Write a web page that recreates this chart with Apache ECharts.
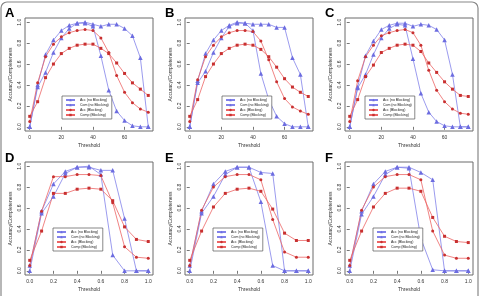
<!DOCTYPE html>
<html>
<head>
<meta charset="utf-8">
<script src="https://cdn.jsdelivr.net/npm/echarts@6/dist/echarts.min.js"></script>
<style>html,body{margin:0;padding:0;background:#fff}#c{width:480px;height:296px}</style>
</head>
<body>
<div id="c"></div>
<script>
// ---- data ----
const thrPct = [0,5,10,15,20,25,30,35,40,45,50,55,60,65,70,75];
const thrFrac = [0.0,0.1,0.2,0.3,0.4,0.5,0.6,0.7,0.8,0.9,1.0];
const xTicksPct = [0,20,40,60];
const xTicksFrac = [0.0,0.2,0.4,0.6,0.8,1.0];
const yTicks = [0.0,0.2,0.4,0.6,0.8,1.0];
const panelLetters = ['A','B','C','D','E','F'];
const seriesNames = ['Acc (no Blocking)','Com (no Blocking)','Acc (Blocking)','Comp (Blocking)'];

// Panel A
const accNoBlockA = [0.0,0.40,0.69,0.83,0.92,0.97,0.99,1.00,0.98,0.96,0.98,0.98,0.94,0.87,0.66,0.0];
const comNoBlockA = [0.0,0.38,0.52,0.71,0.85,0.94,0.99,0.99,0.96,0.68,0.35,0.15,0.06,0.01,0.0,0.0];
const accBlockA   = [0.05,0.42,0.67,0.79,0.86,0.90,0.92,0.93,0.92,0.85,0.71,0.49,0.33,0.23,0.17,0.14];
const compBlockA  = [0.10,0.24,0.47,0.60,0.70,0.75,0.78,0.79,0.79,0.75,0.70,0.61,0.51,0.42,0.36,0.30];
// Panel B
const accNoBlockB = [0.0,0.44,0.70,0.83,0.92,0.97,1.00,0.99,0.98,0.98,0.98,0.95,0.95,0.66,0.50,0.0];
const comNoBlockB = [0.0,0.42,0.53,0.71,0.85,0.96,0.99,0.99,0.92,0.51,0.26,0.10,0.03,0.0,0.0,0.0];
const accBlockB   = [0.05,0.45,0.67,0.78,0.86,0.90,0.92,0.92,0.91,0.82,0.64,0.43,0.27,0.19,0.15,0.12];
const compBlockB  = [0.10,0.26,0.48,0.60,0.70,0.75,0.78,0.79,0.78,0.74,0.67,0.57,0.46,0.38,0.33,0.29];
// Panel C
const accNoBlockC = [0.0,0.38,0.68,0.82,0.93,0.97,0.99,0.99,0.96,0.98,0.97,0.93,0.83,0.50,0.0,0.0];
const comNoBlockC = [0.0,0.37,0.50,0.69,0.85,0.94,0.98,0.97,0.65,0.32,0.14,0.05,0.01,0.0,0.0,0.0];
const accBlockC   = [0.05,0.44,0.67,0.78,0.87,0.90,0.92,0.93,0.90,0.78,0.54,0.35,0.24,0.17,0.13,0.12];
const compBlockC  = [0.10,0.26,0.48,0.59,0.71,0.75,0.78,0.79,0.78,0.72,0.61,0.52,0.43,0.36,0.30,0.29];
// Panel D
const accNoBlockD = [0.05,0.57,0.83,0.95,0.99,0.99,0.96,0.96,0.50,0.0,0.0];
const comNoBlockD = [0.0,0.55,0.71,0.93,0.99,1.00,0.92,0.15,0.0,0.0,0.0];
const accBlockD   = [0.05,0.57,0.90,0.90,0.92,0.92,0.91,0.65,0.23,0.13,0.12];
const compBlockD  = [0.10,0.38,0.74,0.74,0.78,0.79,0.78,0.67,0.42,0.30,0.28];
// Panel E
const accNoBlockE = [0.05,0.57,0.83,0.95,0.99,0.99,0.94,0.93,0.0,0.0,0.0];
const comNoBlockE = [0.0,0.55,0.71,0.92,0.99,0.99,0.66,0.05,0.0,0.0,0.0];
const accBlockE   = [0.05,0.58,0.80,0.90,0.92,0.92,0.87,0.49,0.18,0.13,0.13];
const compBlockE  = [0.10,0.38,0.61,0.74,0.78,0.79,0.76,0.59,0.36,0.29,0.29];
// Panel F
const accNoBlockF = [0.05,0.57,0.83,0.95,0.99,0.99,0.94,0.87,0.0,0.0,0.0];
const comNoBlockF = [0.0,0.54,0.71,0.92,0.99,0.98,0.31,0.01,0.0,0.0,0.0];
const accBlockF   = [0.05,0.58,0.80,0.90,0.92,0.92,0.87,0.38,0.15,0.12,0.12];
const compBlockF  = [0.10,0.38,0.61,0.74,0.79,0.79,0.76,0.51,0.33,0.28,0.27];

const panels = [
  {x: thrPct, ticks: xTicksPct, s: [accNoBlockA, comNoBlockA, accBlockA, compBlockA]},
  {x: thrPct, ticks: xTicksPct, s: [accNoBlockB, comNoBlockB, accBlockB, compBlockB]},
  {x: thrPct, ticks: xTicksPct, s: [accNoBlockC, comNoBlockC, accBlockC, compBlockC]},
  {x: thrFrac, ticks: xTicksFrac, s: [accNoBlockD, comNoBlockD, accBlockD, compBlockD]},
  {x: thrFrac, ticks: xTicksFrac, s: [accNoBlockE, comNoBlockE, accBlockE, compBlockE]},
  {x: thrFrac, ticks: xTicksFrac, s: [accNoBlockF, comNoBlockF, accBlockF, compBlockF]}
];

// ---- styles / layout ----
const BLUE = '#8282ea', BLUE_M = '#6c6ce0', RED = '#ec6464', RED_M = '#c83030';
const styles = [
  {color: BLUE, mcolor: BLUE_M, symbol: 'triangle', size: 4.5},
  {color: BLUE, mcolor: BLUE_M, symbol: 'triangle', size: 4.5},
  {color: RED, mcolor: RED_M, symbol: 'circle', size: 3},
  {color: RED, mcolor: RED_M, symbol: 'rect', size: 3}
];
const legendPos = [[62,96],[222,96],[365,96],[53,228],[213,228],[373,228]];
const FONT = 'Liberation Sans, Arial, sans-serif';

const grids = [], xAxes = [], yAxes = [], series = [], legends = [], graphics = [];
panels.forEach((p, i) => {
  const col = i % 3, row = Math.floor(i / 3);
  const left = 25 + 160 * col, top = row ? 162 : 18;
  grids.push({left: left, top: top, width: 128, height: 113, show: true,
    borderColor: '#6a6a6a', borderWidth: 1, backgroundColor: 'transparent'});
  const xmin = p.x[0], xmax = p.x[p.x.length - 1], pad = (xmax - xmin) * 0.04;
  const frac = xmax <= 1;
  xAxes.push({type: 'value', gridIndex: i, min: xmin - pad, max: xmax + pad,
    axisLine: {show: false}, splitLine: {show: false},
    axisTick: {show: true, length: 3, customValues: p.ticks, lineStyle: {color: '#555', width: 0.8}},
    axisLabel: {customValues: p.ticks, fontSize: 5, margin: 4, color: '#333', fontFamily: FONT,
      formatter: v => frac ? v.toFixed(1) : String(v)},
    name: 'Threshold', nameLocation: 'middle', nameGap: 12,
    nameTextStyle: {fontSize: 5, color: '#333', fontFamily: FONT}});
  yAxes.push({type: 'value', gridIndex: i, min: -0.04, max: 1.04,
    axisLine: {show: false}, splitLine: {show: false},
    axisTick: {show: true, length: 3, customValues: yTicks, lineStyle: {color: '#555', width: 0.8}},
    axisLabel: {customValues: yTicks, fontSize: 5, margin: 3, rotate: 90, color: '#333', fontFamily: FONT,
      formatter: v => v.toFixed(1)},
    name: 'Accuracy/Completeness', nameLocation: 'middle', nameGap: 12, nameRotate: 90,
    nameTextStyle: {fontSize: 5, color: '#333', fontFamily: FONT}});
  p.s.forEach((vals, k) => {
    const st = styles[k];
    series.push({type: 'line', name: seriesNames[k], xAxisIndex: i, yAxisIndex: i,
      data: p.x.map((xv, j) => [xv, vals[j]]),
      symbol: st.symbol, symbolSize: st.size, showSymbol: true,
      lineStyle: {color: st.color, width: 0.8},
      itemStyle: {color: st.mcolor, borderWidth: 0},
      emphasis: {disabled: true}});
  });
  legends.push({left: legendPos[i][0], top: legendPos[i][1], orient: 'vertical',
    data: seriesNames, itemGap: 1, itemWidth: 9, itemHeight: 3, padding: [2, 3, 2, 3],
    borderColor: '#555', borderWidth: 0.7, backgroundColor: '#fff',
    textStyle: {fontSize: 3.5, color: '#222', fontFamily: FONT, padding: [0,0,0,0]},
    selectedMode: false});
  graphics.push({type: 'text', left: 5 + 160 * col, top: row ? 152 : 7,
    style: {text: panelLetters[i], font: 'bold 13px ' + FONT, fill: '#000'}});
});
graphics.push({type: 'rect', shape: {x: 1, y: 2, width: 477, height: 310, r: 6},
  style: {fill: 'none', stroke: '#888', lineWidth: 1.2}, silent: true});

const chart = echarts.init(document.getElementById('c'), null, {renderer: 'canvas'});
chart.setOption({
  animation: false,
  backgroundColor: '#fff',
  grid: grids, xAxis: xAxes, yAxis: yAxes, series: series,
  legend: legends, graphic: graphics
});
</script>
</body>
</html>
